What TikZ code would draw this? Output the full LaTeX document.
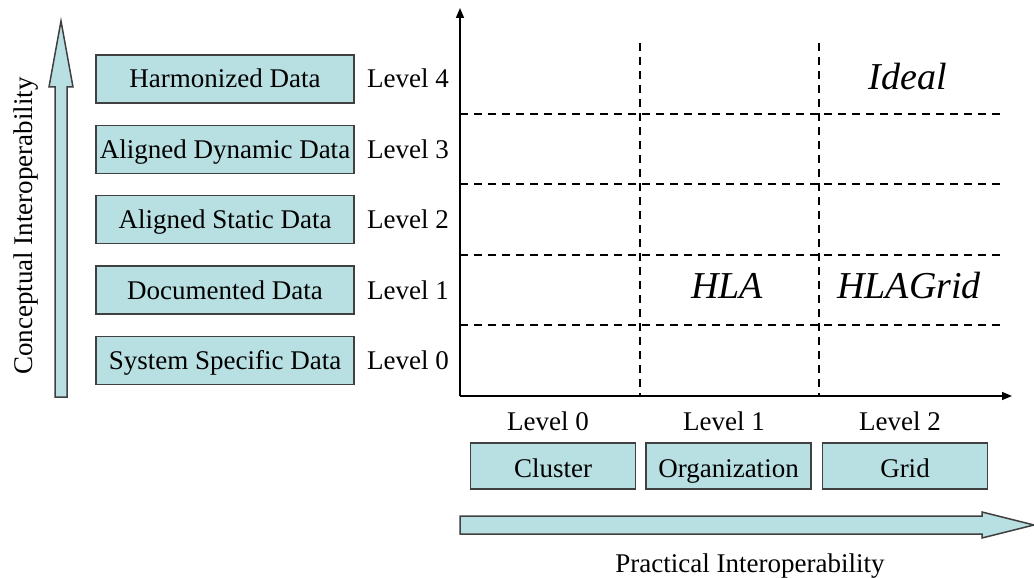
\documentclass[tikz,border=0pt]{standalone}
\usepackage{fontspec}
\setmainfont{Liberation Serif}
\usetikzlibrary{arrows.meta}
\definecolor{boxfill}{RGB}{184,223,225}
\definecolor{boxline}{RGB}{64,64,64}
\begin{document}
\begin{tikzpicture}[x=1pt,y=-1pt,
  txt/.style={font=\fontsize{27}{30}\selectfont, inner sep=0pt,
    text height=18.5pt, text depth=0.5pt},
  databox/.style={txt, draw=boxline, fill=boxfill, line width=1.5pt,
    minimum width=258pt, minimum height=48pt},
  kindbox/.style={txt, draw=boxline, fill=boxfill, line width=1.5pt,
    minimum width=165pt, minimum height=46pt, text height=22pt, text depth=0pt},
  cell/.style={font=\fontsize{38}{42}\selectfont\itshape, inner sep=0pt, anchor=base},
  gridline/.style={black, line width=1.6pt, dash pattern=on 8pt off 6pt},
  axis/.style={black, line width=1.5pt, -{Triangle[length=10pt,width=8pt]}},
  bigarrow/.style={draw=boxline, fill=boxfill, line width=1.5pt, line join=miter}]
\useasboundingbox (0,0) rectangle (1034,578);

% conceptual axis arrow and its label
\draw[bigarrow] (55,397) -- (55,87) -- (49,87) -- (61,21) -- (73,87)
  -- (67,87) -- (67,397) -- cycle;
\node[txt, rotate=90] (concept) at (23,226) {Conceptual Interoperability};

% conceptual levels
\node[databox] (d4) at (225,79)    {Harmonized Data};
\node[databox] (d3) at (225,149.5) {Aligned Dynamic Data};
\node[databox] (d2) at (225,219.5) {Aligned Static Data};
\node[databox] (d1) at (225,290)   {Documented Data};
\node[databox] (d0) at (225,360.5) {System Specific Data};

\node[txt] (c4) at (408,79)    {Level 4};
\node[txt] (c3) at (408,149.5) {Level 3};
\node[txt] (c2) at (408,219.5) {Level 2};
\node[txt] (c1) at (408,290)   {Level 1};
\node[txt] (c0) at (408,360.5) {Level 0};

% grid
\foreach \y in {114,184,255,325}
  \draw[gridline] (460,\y) -- (1000,\y);
\foreach \x in {640,819}
  \draw[gridline] (\x,43) -- (\x,396);

% axes
\coordinate (O) at (460,396);
\coordinate (ytop) at (460,8);
\coordinate (xend) at (1012,396);
\draw[axis] (O) -- (ytop);
\draw[axis] (O) -- (xend);

% cell labels
\node[cell] (ideal) at (908,89) {Ideal};
\node[cell] (hla) at (727,298) {HLA};
\node[cell] (hlagrid) at (909,298) {HLAGrid};

% practical levels
\node[txt] (p0) at (548,421) {Level 0};
\node[txt] (p1) at (724,421) {Level 1};
\node[txt] (p2) at (900,421) {Level 2};

\node[kindbox] (cluster) at (553,466)   {Cluster};
\node[kindbox] (org)     at (728.5,466) {Organization};
\node[kindbox] (grid)    at (905,466)   {Grid};

% practical axis arrow and its label
\draw[bigarrow] (460,516) -- (982,516) -- (982,512) -- (1034,525)
  -- (982,538) -- (982,534) -- (460,534) -- cycle;
\node[txt] (practical) at (750,563) {Practical Interoperability};
\end{tikzpicture}
\end{document}
